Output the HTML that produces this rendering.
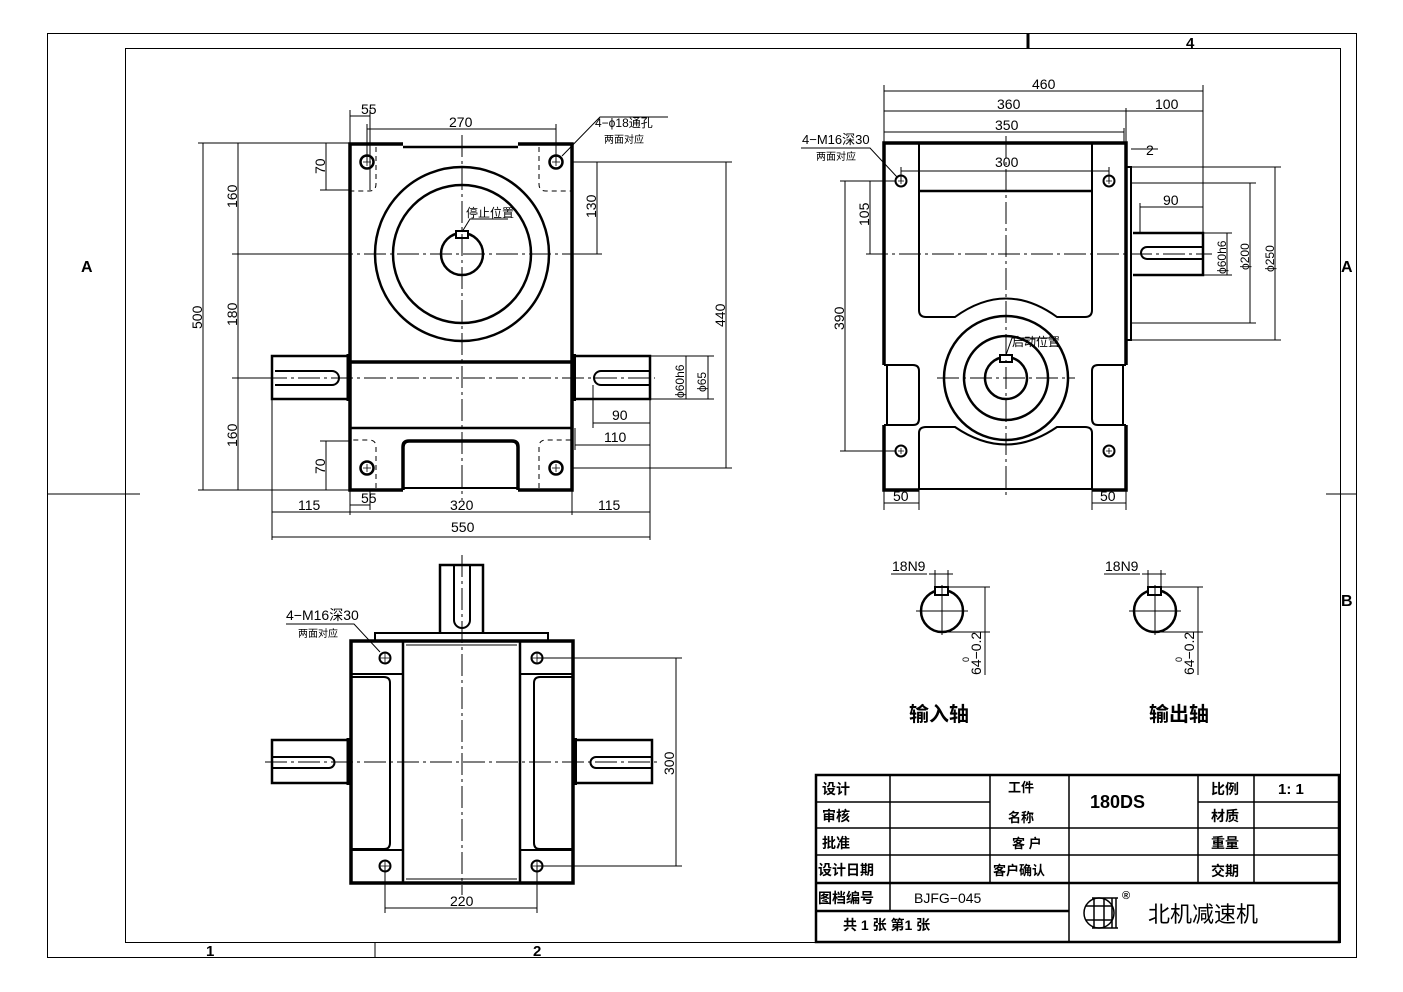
<!DOCTYPE html>
<html><head><meta charset="utf-8"><style>
html,body{margin:0;padding:0;background:#fff;}
svg{display:block;}
text{font-family:"Liberation Sans","Noto Sans CJK SC",sans-serif;fill:#000;}
.t{font-size:14px;}
.b{font-weight:bold;}
</style></head><body>
<svg width="1403" height="992" viewBox="0 0 1403 992" xmlns="http://www.w3.org/2000/svg">
<g fill="none" stroke="#000" stroke-width="1">
<!-- frame -->
<rect x="47.5" y="33.5" width="1309" height="924"/>
<rect x="125.5" y="48.5" width="1215" height="894"/>
<line x1="1028" y1="33" x2="1028" y2="48" stroke-width="3"/>
<line x1="375" y1="942" x2="375" y2="957"/>
<line x1="47" y1="494" x2="140" y2="494"/>
<line x1="1326" y1="494" x2="1356" y2="494"/>
</g>
<text x="1186" y="48" class="b" font-size="15">4</text>
<text x="206" y="956" class="b" font-size="15">1</text>
<text x="533" y="956" class="b" font-size="15">2</text>
<text x="81" y="272" class="b" font-size="16">A</text>
<text x="1341" y="272" class="b" font-size="16">A</text>
<text x="1341" y="606" class="b" font-size="16">B</text>

<!-- ============ FRONT VIEW ============ -->
<g fill="none" stroke="#000">
<g stroke-width="3.5">
<path d="M403,144 H350 V490 H403"/>
<path d="M518,144 H572 V490 H518"/>
<line x1="403" y1="147" x2="518" y2="147" stroke-width="2.5"/>
<line x1="350" y1="362" x2="572" y2="362"/>
<line x1="350" y1="428" x2="572" y2="428" stroke-width="2.5"/>
<path d="M403,490 V447 Q403,441 409,441 H512 Q518,441 518,447 V490"/>
<line x1="403" y1="488" x2="518" y2="488" stroke-width="2"/>
<circle cx="462" cy="254" r="87" stroke-width="2.5"/>
<circle cx="462" cy="254" r="69" stroke-width="2.5"/>
<circle cx="462" cy="254" r="21" stroke-width="2.5"/>
<rect x="456" y="231" width="12" height="7" stroke-width="2" fill="#fff"/>
<!-- shafts -->
<path d="M350,356 H272 V399 H350" stroke-width="2.5"/>
<line x1="348" y1="354" x2="348" y2="401" stroke-width="3"/>
<path d="M574,356 H650 V399 H574" stroke-width="2.5"/>
<line x1="574" y1="354" x2="574" y2="401" stroke-width="4"/>
</g>
<path d="M275,371 H332 A7,7 0 0 1 332,385 H275" stroke-width="2"/>
<path d="M650,371 H601 A7,7 0 0 0 601,385 H650" stroke-width="2"/>
<g stroke-width="1" stroke-dasharray="5,4">
<path d="M376,147 V184 Q376,191 369,191 H350"/>
<path d="M539,147 V184 Q539,191 546,191 H572"/>
<path d="M376,488 V447 Q376,440 369,440 H350"/>
<path d="M539,488 V447 Q539,440 546,440 H572"/>
</g>
<g stroke-width="2.5">
<circle cx="367" cy="162" r="6.5"/><circle cx="556" cy="162" r="6.5"/>
<circle cx="367" cy="468" r="6.5"/><circle cx="556" cy="468" r="6.5"/>
</g>
<g stroke-width="0.8">
<path d="M363,162h8M367,158v8M552,162h8M556,158v8M363,468h8M367,464v8M552,468h8M556,464v8"/>
</g>
<!-- center lines -->
<g stroke-width="1" stroke-dasharray="22,4,3,4">
<line x1="232" y1="254" x2="600" y2="254"/>
<line x1="232" y1="378" x2="655" y2="378"/>
<line x1="462" y1="135" x2="462" y2="500"/>
</g>
<!-- dims -->
<g stroke-width="1">
<path d="M198,143 H350 M232,254 H350 M232,378 H272 M198,490 H350"/>
<path d="M203,143 V490 M238,143 V490"/>
<path d="M320,190 H350 M320,441 H350 M326,143 V190 M326,441 V490"/>
<path d="M572,162 H732 M572,254 H602 M572,468 H732 M597,162 V254 M726,162 V468"/>
<path d="M350,110 V143 M370,110 V190 M367,124 V162 M556,124 V162 M350,116 H370 M367,129 H556"/>
<path d="M272,400 V540 M650,400 V540 M350,490 V515 M370,490 V510 M572,490 V515"/>
<path d="M350,505 H370 M272,512 H650 M272,537 H650"/>
<path d="M650,356 H714 M650,399 H714 M686,356 V399 M708,356 V399"/>
<path d="M593,385 V428 M593,423 H650 M575,428 V450 M575,445 H650"/>
<path d="M562,156 L600,117 H668" />
<path d="M462,232 L470,219 H508"/>
</g>
</g>
<g class="t" font-size="13">
<text x="361" y="114">55</text>
<text x="449" y="127">270</text>
<text x="595" y="127" font-size="12">4−ϕ18通孔</text>
<text x="604" y="143" font-size="10">两面对应</text>
<text x="466" y="217" font-size="12">停止位置</text>
<text x="361" y="503">55</text>
<text x="298" y="510">115</text>
<text x="450" y="510">320</text>
<text x="598" y="510">115</text>
<text x="451" y="532">550</text>
<text x="612" y="420">90</text>
<text x="604" y="442">110</text>
<text transform="translate(202,329) rotate(-90)">500</text>
<text transform="translate(237,208) rotate(-90)">160</text>
<text transform="translate(237,326) rotate(-90)">180</text>
<text transform="translate(237,447) rotate(-90)">160</text>
<text transform="translate(325,174) rotate(-90)">70</text>
<text transform="translate(325,474) rotate(-90)">70</text>
<text transform="translate(596,218) rotate(-90)">130</text>
<text transform="translate(725,327) rotate(-90)">440</text>
<text transform="translate(684,398) rotate(-90)" font-size="12">ϕ60h6</text>
<text transform="translate(706,392) rotate(-90)" font-size="12">ϕ65</text>
</g>

<!-- ============ SIDE VIEW ============ -->
<g fill="none" stroke="#000">
<g stroke-width="3.5">
<path d="M884,365 V143 H1126 V365"/>
<path d="M884,425 V490 H919 M1092,490 H1126 V425"/>
<line x1="919" y1="143" x2="919" y2="310" stroke-width="2"/>
<line x1="1092" y1="143" x2="1092" y2="310" stroke-width="2"/>
<line x1="919" y1="191" x2="1092" y2="191" stroke-width="2.5"/>
</g>
<g stroke-width="2">
<path d="M919,310 Q919,317 926,317 H955 Q1006,280 1057,317 H1085 Q1092,317 1092,310"/>
<path d="M919,490 V433 Q919,427 926,427 H955 Q1006,462 1057,427 H1085 Q1092,427 1092,433 V490"/>
<line x1="919" y1="489" x2="1092" y2="489"/>
<path d="M884,365 H913 Q919,365 919,371 V419 Q919,425 913,425 H884"/>
<path d="M1126,365 H1098 Q1092,365 1092,371 V419 Q1092,425 1098,425 H1126"/>
<line x1="887" y1="365" x2="887" y2="425"/>
<line x1="1123" y1="365" x2="1123" y2="425"/>
<circle cx="1006" cy="378" r="62" stroke-width="2.5"/>
<circle cx="1006" cy="378" r="42" stroke-width="2.5"/>
<circle cx="1006" cy="378" r="21" stroke-width="2.5"/>
<rect x="1000" y="355" width="12" height="7" fill="#fff"/>
<path d="M1126,167 H1131 V340 H1126"/>
<line x1="1131" y1="183" x2="1131" y2="323"/>
<path d="M1133,233 H1203 V275 H1133" stroke-width="2.5"/>
<path d="M1203,247 H1147 A6,6 0 0 0 1147,259 H1203"/>
<circle cx="901" cy="181" r="5.5"/><circle cx="1109" cy="181" r="5.5"/>
<circle cx="901" cy="451" r="5.5"/><circle cx="1109" cy="451" r="5.5"/>
</g>
<g stroke-width="0.8"><path d="M898,181h6M901,178v6M1106,181h6M1109,178v6M898,451h6M901,448v6M1106,451h6M1109,448v6"/></g>
<g stroke-width="1" stroke-dasharray="22,4,3,4">
<line x1="866" y1="254" x2="1212" y2="254"/>
<line x1="937" y1="378" x2="1075" y2="378"/>
<line x1="1006" y1="136" x2="1006" y2="498"/>
</g>
<g stroke-width="1">
<path d="M884,85 V143 M1203,85 V233 M1126,108 V143 M1124,128 V143"/>
<path d="M884,91 H1203 M884,111 H1203 M884,132 H1124"/>
<path d="M901,167 V181 M1109,167 V181 M901,171 H1109"/>
<path d="M1131,149 H1158 M1126,147 V160"/>
<path d="M1140,203 V233 M1140,207 H1203"/>
<path d="M1203,233 H1232 M1203,275 H1232 M1227,233 V275"/>
<path d="M1131,183 H1256 M1131,323 H1256 M1250,183 V323"/>
<path d="M1131,167 H1281 M1131,340 H1281 M1275,167 V340"/>
<path d="M840,181 H895 M840,451 H895 M866,254 H884 M870,181 V254 M845,181 V451"/>
<path d="M884,490 V510 M919,490 V510 M1092,490 V510 M1126,490 V510 M884,503 H919 M1092,503 H1126"/>
<path d="M801,148 H870 L897,177"/>
<path d="M1006,355 L1012,338 H1052"/>
</g>
</g>
<g class="t" font-size="13">
<text x="1032" y="89">460</text>
<text x="997" y="109">360</text>
<text x="1155" y="109">100</text>
<text x="995" y="130">350</text>
<text x="995" y="167">300</text>
<text x="1146" y="155">2</text>
<text x="1163" y="205">90</text>
<text x="802" y="144" font-size="13">4−M16深30</text>
<text x="816" y="160" font-size="10">两面对应</text>
<text x="1012" y="346" font-size="12">启动位置</text>
<text x="893" y="501">50</text>
<text x="1100" y="501">50</text>
<text transform="translate(869,226) rotate(-90)">105</text>
<text transform="translate(844,330) rotate(-90)">390</text>
<text transform="translate(1226,274) rotate(-90)" font-size="12">ϕ60h6</text>
<text transform="translate(1249,270) rotate(-90)" font-size="12">ϕ200</text>
<text transform="translate(1274,272) rotate(-90)" font-size="12">ϕ250</text>
</g>

<!-- ============ BOTTOM VIEW ============ -->
<g fill="none" stroke="#000">
<g stroke-width="3.5">
<rect x="351" y="641" width="222" height="242"/>
<line x1="403" y1="641" x2="403" y2="883" stroke-width="2.5"/>
<line x1="520" y1="641" x2="520" y2="883" stroke-width="2.5"/>
</g>
<g stroke-width="2">
<line x1="406" y1="645" x2="517" y2="645" stroke-width="1"/>
<line x1="406" y1="879" x2="517" y2="879" stroke-width="1"/>
<path d="M375,641 V633 H548 V641"/>
<path d="M440,633 V565 H483 V633" stroke-width="2.5"/>
<path d="M454,565 V620 A8,8 0 0 0 470,620 V565"/>
<path d="M351,674 H403 M520,674 H573 M351,850 H403 M520,850 H573"/>
<path d="M351,677 H384 Q390,677 390,683 V843 Q390,849 384,849 H351"/>
<path d="M573,677 H540 Q534,677 534,683 V843 Q534,849 540,849 H573"/>
<path d="M349,740 H272 V783 H349" stroke-width="2.5"/>
<line x1="348" y1="738" x2="348" y2="785" stroke-width="3"/>
<path d="M575,740 H652 V783 H575" stroke-width="2.5"/>
<line x1="575" y1="738" x2="575" y2="785" stroke-width="4"/>
<path d="M273,757 H329 A5.5,5.5 0 0 1 329,768 H273"/>
<path d="M652,757 H596 A5.5,5.5 0 0 0 596,768 H652"/>
<circle cx="385" cy="658" r="5.5"/><circle cx="537" cy="658" r="5.5"/>
<circle cx="385" cy="866" r="5.5"/><circle cx="537" cy="866" r="5.5"/>
</g>
<g stroke-width="0.8"><path d="M379,658h12M385,652v12M531,658h12M537,652v12M379,866h12M385,860v12M531,866h12M537,860v12"/></g>
<g stroke-width="1" stroke-dasharray="22,4,3,4">
<line x1="265" y1="762" x2="660" y2="762"/>
<line x1="462" y1="555" x2="462" y2="895"/>
</g>
<g stroke-width="1">
<path d="M537,658 H682 M537,866 H682 M676,658 V866"/>
<path d="M385,866 V913 M537,866 V913 M385,908 H537"/>
<path d="M286,624 H354 L380,652"/>
</g>
</g>
<g class="t" font-size="13">
<text x="286" y="620">4−M16深30</text>
<text x="298" y="637" font-size="10">两面对应</text>
<text x="450" y="906">220</text>
<text transform="translate(674,775) rotate(-90)">300</text>
</g>

<!-- ============ KEY SECTIONS ============ -->
<g fill="none" stroke="#000">
<g stroke-width="2.5">
<circle cx="942" cy="611" r="21"/>
<circle cx="1155" cy="611" r="21"/>
</g>
<rect x="935" y="587" width="13" height="8" stroke-width="2" fill="#fff"/>
<rect x="1148" y="587" width="13" height="8" stroke-width="2" fill="#fff"/>
<g stroke-width="1">
<path d="M916,611 H968 M942,585 V635 M1129,611 H1181 M1155,585 V635"/>
<path d="M891,574 H927 M929,574 H953 M935,570 V587 M948,570 V587"/>
<path d="M1104,574 H1140 M1142,574 H1166 M1148,570 V587 M1161,570 V587"/>
<path d="M948,587 H990 M942,632 H990 M985,587 V675"/>
<path d="M1161,587 H1203 M1155,632 H1203 M1198,587 V675"/>
</g>
</g>
<g class="t" font-size="12">
<text x="892" y="571">18N9</text>
<text x="1105" y="571">18N9</text>
<text transform="translate(981,675) rotate(-90)">64−0.2</text>
<text transform="translate(969,662) rotate(-90)" font-size="9">0</text>
<text transform="translate(1194,675) rotate(-90)">64−0.2</text>
<text transform="translate(1182,662) rotate(-90)" font-size="9">0</text>
</g>
<text x="909" y="721" class="b" font-size="20">输入轴</text>
<text x="1149" y="721" class="b" font-size="20">输出轴</text>

<!-- ============ TITLE BLOCK ============ -->
<g fill="none" stroke="#000">
<rect x="816" y="775" width="523" height="167" stroke-width="2.5"/>
<g stroke-width="1.5">
<path d="M816,802 H990 M1198,802 H1339"/>
<path d="M816,828 H1339 M816,855 H1339"/>
<path d="M816,883 H1339" stroke-width="2.5"/>
<path d="M816,911 H1069" stroke-width="2.5"/>
<path d="M890,775 V911 M990,775 V883 M1069,775 V942 M1198,775 V883 M1254,775 V883"/>
</g>
<!-- logo -->
<g stroke-width="1.5">
<circle cx="1099" cy="913" r="15"/>
<path d="M1086,906 H1112 M1086,920 H1112 M1094,898 V928 M1104,898 V928 M1092,898 H1118 M1092,928 H1118 M1112,898 V928 M1116,898 V928"/>
</g>
</g>
<g font-size="14" class="b">
<text x="822" y="794">设计</text>
<text x="822" y="821">审核</text>
<text x="822" y="848">批准</text>
<text x="818" y="875">设计日期</text>
<text x="818" y="903">图档编号</text>
<text x="843" y="930">共 1 张 第1 张</text>
<text x="1008" y="792" font-size="13">工件</text>
<text x="1008" y="822" font-size="13">名称</text>
<text x="1012" y="848" font-size="13">客 户</text>
<text x="993" y="875" font-size="13">客户确认</text>
<text x="1090" y="808" font-size="18" font-family="Liberation Serif,serif">180DS</text>
<text x="1211" y="794">比例</text>
<text x="1211" y="821">材质</text>
<text x="1211" y="848">重量</text>
<text x="1211" y="876">交期</text>
<text x="1278" y="794" font-family="Liberation Serif,serif" font-size="15">1: 1</text>
</g>
<text x="914" y="903" font-size="14" font-family="Liberation Sans,sans-serif">BJFG−045</text>
<text x="1122" y="899" font-size="11" class="b">®</text>
<text x="1148" y="922" font-size="22">北机减速机</text>
</svg>
</body></html>
